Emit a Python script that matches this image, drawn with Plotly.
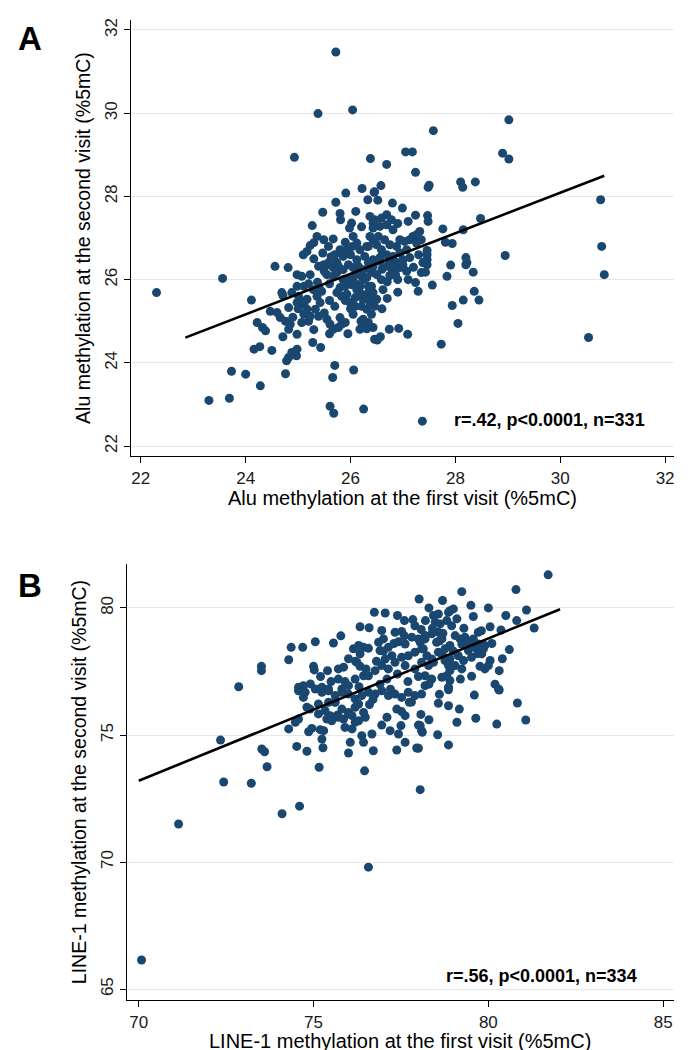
import plotly.graph_objects as go

# ---------------- Panel A data (Alu, %5mC) ----------------
alu_first = [
 24.93,25.72,25.38,26.04,26.38,27.05,27.18,26.69,27.24,28.9,29.02,29.02,27.58,27.5,27.48,28.1,28.14,28.38,26.58,26.46,
 26.52,26.33,26.8,26.99,27.24,27.47,27.48,27.76,28.15,28.48,27.81,27.94,28.2,28.22,27.91,27.46,27.46,27.46,27.46,27.38,
 25.91,26.22,26.45,25.72,25.47,25.8,25.81,26.1,26.02,25.98,26.21,26.37,26.43,25.27,25.36,25.49,25.67,25.23,25.17,25.1,
 25.3,25.58,25.47,25.63,25.8,25.93,25.86,26.05,26.12,26.04,26.18,26.31,26.43,26.27,26.12,26.43,24.56,24.81,25.39,25.55,25.74,
 26.46,26.59,26.69,26.78,26.43,26.56,26.69,26.81,26.37,26.53,26.65,26.34,26.5,26.59,26.75,26.88,26.94,27.03,27.13,27.19,
 27.26,27.32,27.35,27.26,27.07,26.94,26.81,26.69,26.56,26.37,26.75,27.0,27.13,
 24.98,25.07,25.23,25.37,24.98,25.11,24.69,24.71,24.11,24.88,25.01,25.04,25.17,25.11,24.98,24.82,24.47,24.6,24.66,24.76,
 24.85,24.82,24.98,25.17,25.11,25.23,25.2,25.07,25.42,25.33,25.39,25.36,25.45,25.29,25.55,25.61,25.67,25.77,25.83,25.9,
 25.8,25.7,25.74,25.83,25.93,25.8,25.9,25.96,25.86,25.99,26.09,26.05,26.24,26.31,26.43,26.18,26.34,26.43,26.18,26.28,
 26.43,26.46,24.22,24.32,24.38,24.71,24.16,24.27,25.28,25.43,24.88,24.82,24.78,24.98,24.97,25.7,26.06,24.0,24.76,25.66,24.28,
 25.49,25.58,25.67,25.77,25.86,25.96,26.05,26.15,26.24,26.34,26.43,
 25.55,25.67,25.74,26.02,26.12,26.24,26.31,26.37,26.15,26.05,26.18,26.09,26.31,26.21,26.37,26.4,26.24,26.34,26.5,26.46,
 27.41,27.43,27.35,28.2,28.34,27.84,27.07,26.5,26.59,26.75,26.86,26.62,26.4,26.4,27.24,27.29,27.56,28.36,28.15,28.45,
 27.94,28.05,26.31,26.74,26.92,27.09,26.57,26.51,27.73,26.37,26.56,26.69,26.88,26.94,
 26.6,26.8,27.0,27.2,26.9,26.7,
 25.3,25.5,25.7,25.9,26.0,26.2,26.1,25.9,25.6,25.4,25.2,25.0,24.9,25.5,25.6,26.0,26.2,25.95,25.6,25.3,
 26.6,26.7,26.9,27.1,26.8,27.3,26.9,27.1,
 27.37,26.25,25.61,25.68,23.69,23.73,23.56,22.3,30.79,30.84,30.54,30.77,28.95,24.5,23.3
]
alu_second = [
 28.94,31.47,29.99,30.08,28.91,29.07,29.07,28.77,28.58,29.04,28.9,29.84,29.58,28.27,28.22,28.35,28.22,28.35,28.26,28.11,
 27.91,27.92,27.84,27.72,27.55,27.54,27.4,27.22,27.2,27.47,26.9,26.87,26.53,26.41,26.35,26.7,26.6,26.48,26.36,26.41,
 28.08,28.19,28.1,27.86,27.62,27.59,27.44,27.64,27.36,27.24,27.27,27.52,27.36,27.3,27.04,26.96,26.98,26.82,26.68,26.6,
 26.89,26.8,26.64,26.55,26.72,26.72,26.56,27.04,26.88,26.8,26.72,26.8,26.96,26.56,26.48,26.48,26.32,26.29,26.32,26.36,26.41,
 27.44,27.48,27.56,27.44,27.24,27.28,27.32,27.2,27.04,27.04,26.96,26.8,26.84,26.72,26.84,26.8,26.96,26.92,26.96,27.04,
 27.08,27.16,26.96,26.88,26.72,26.64,26.56,26.6,26.53,26.32,26.41,26.48,26.53,
 26.12,26.08,26.12,25.94,25.84,25.84,25.69,25.62,25.51,25.69,25.6,25.48,25.53,25.41,25.45,25.33,25.24,25.21,25.09,25.0,
 24.93,24.81,24.69,25.29,25.17,25.12,25.0,24.97,25.45,25.29,25.12,25.6,25.72,25.76,25.05,24.93,24.81,24.85,24.93,24.97,
 25.09,25.36,25.69,25.6,25.65,25.81,25.84,26.0,26.0,25.45,25.36,25.17,25.53,25.65,25.69,25.84,25.84,26.17,24.81,24.85,
 24.85,24.57,24.97,24.85,24.77,24.63,24.33,24.39,24.49,24.37,24.25,24.13,24.05,24.33,24.17,23.94,23.83,23.73,23.74,23.65,23.45,
 26.36,26.41,26.29,26.32,26.24,26.36,26.29,26.32,26.24,26.41,26.32,
 26.12,26.08,26.17,25.88,25.76,26.0,26.05,26.24,26.17,26.05,25.69,25.57,25.29,25.36,25.45,25.17,25.05,24.97,25.53,25.36,
 26.41,26.18,26.17,26.36,26.18,26.08,26.2,26.12,26.0,26.1,26.12,25.76,25.84,25.57,25.93,25.72,25.87,25.72,25.51,25.51,
 25.38,24.95,24.82,24.81,24.83,24.69,24.63,24.55,24.45,26.36,26.44,26.32,26.41,26.29,
 26.25,26.2,26.35,26.3,26.0,25.95,
 26.5,26.2,26.6,26.9,26.6,26.1,25.9,25.5,25.9,25.8,25.9,25.3,25.1,25.2,25.5,25.3,25.0,24.7,24.7,24.8,
 25.3,25.55,25.7,26.0,26.3,26.6,27.35,27.4,
 22.6,22.89,22.96,22.79,23.15,23.8,26.03,25.69,26.8,26.12,24.61,27.92,26.58,24.3,23.1
]
alu_fit_intercept = 13.48
alu_fit_slope = 0.487
alu_fit_xrange = [22.85, 30.84]
alu_stat = "r=.42, p<0.0001, n=331"
alu_xtitle = "Alu methylation at the first visit (%5mC)"
alu_ytitle = "Alu methylation at the second visit (%5mC)"

# ---------------- Panel B data (LINE-1, %5mC) ----------------
line1_first = [
 78.02,76.74,77.05,77.84,78.08,76.33,76.59,76.95,77.0,75.78,75.57,75.05,74.36,74.69,74.29,73.51,73.51,75.0,75.02,75.4,
 75.71,75.86,76.14,76.29,76.43,76.57,76.33,76.24,76.33,74.57,74.71,74.91,75.24,75.43,
 76.86,76.9,77.14,77.24,77.05,76.95,76.76,76.57,77.14,77.33,77.52,77.71,77.9,78.09,77.62,77.9,78.09,78.19,
 77.33,77.52,77.43,77.62,77.81,78.0,78.19,75.71,75.81,76.0,76.19,76.43,
 73.22,73.67,73.52,73.6,74.29,74.52,74.81,75.16,75.27,75.24,75.29,75.19,74.86,74.95,75.14,74.81,74.9,74.71,74.48,74.57,
 75.38,75.48,75.69,75.86,76.0,76.1,75.9,76.1,76.19,76.29,76.43,76.48,76.38,76.43,76.05,76.0,76.67,76.71,76.46,76.95,
 77.19,77.38,77.5,77.43,77.62,77.95,78.0,78.09,78.07,77.74,77.38,77.52,77.62,78.05,
 74.57,74.76,75.05,75.24,75.43,75.62,75.81,76.0,76.19,76.38,76.57,76.76,76.95,77.14,77.33,77.52,77.71,77.9,78.09,
 75.62,75.81,76.0,76.19,76.29,75.71,75.52,75.33,75.43,75.14,
 78.86,79.6,80.31,78.57,78.86,79.17,80.83,79.64,80.24,81.07,78.05,78.11,78.55,78.86,78.0,
 79.24,80.79,78.69,81.09,80.81,81.31,79.57,80.05,80.36,80.6,79.71,78.43,78.57,78.86,78.9,79.0,79.24,79.52,79.76,79.9,
 80.05,80.0,80.31,80.19,80.29,
 78.48,78.62,78.81,78.95,79.1,78.57,78.67,78.52,78.38,78.19,79.05,79.19,79.33,79.43,79.24,79.57,79.71,79.86,79.9,79.67,
 79.81,78.05,78.14,78.24,78.38,78.29,78.43,78.57,78.67,78.76,78.9,78.76,78.86,78.9,78.81,78.67,78.9,78.86,78.19,78.38,
 79.43,79.14,79.29,79.05,79.52,
 76.2,76.5,76.8,77.0,77.3,77.6,77.9,78.2,78.4,78.6,78.9,79.2,79.5,79.8,80.1,80.4,77.1,77.4,77.7,78.0,
 78.3,78.6,77.8,77.2,76.9,76.6,76.3,75.9,75.5,75.2,76.0,77.6,78.7,79.0,79.3,79.7,80.5,80.0,79.5,78.3,
 77.4,76.7,75.6,78.3,79.1,77.1,
 70.08,71.14,72.34,72.43,72.86,74.1,74.6,76.57,81.71
]
line1_second = [
 80.35,79.83,79.8,79.54,79.15,79.26,79.22,79.11,78.78,78.9,78.62,78.67,78.45,78.45,77.96,77.7,77.53,77.7,77.56,77.53,
 77.6,77.67,78.39,78.52,78.45,78.41,78.19,77.86,77.7,76.88,76.94,77.01,76.88,76.81,
 78.65,78.32,78.45,78.12,77.99,77.73,77.53,77.33,77.6,77.86,78.06,78.12,78.26,78.39,77.73,77.6,77.86,77.33,
 79.04,79.07,78.67,78.58,78.85,78.78,78.91,77.2,76.81,76.94,77.2,77.33,
 73.1,73.75,74.45,74.34,75.24,74.55,74.36,73.73,74.5,74.84,75.17,75.21,75.13,75.26,75.83,76.09,76.02,76.48,75.5,75.63,
 75.63,75.76,75.79,75.63,75.83,75.76,75.3,75.24,75.5,75.56,75.89,75.7,74.97,74.71,74.71,74.29,75.04,74.38,73.59,75.39,
 75.17,74.41,75.37,75.04,74.71,74.49,75.39,75.17,75.81,76.29,76.02,75.92,75.76,72.85,
 76.74,76.68,76.81,76.68,76.74,76.55,76.68,76.61,76.42,76.55,76.68,76.61,76.74,76.55,76.61,76.48,76.68,76.55,76.61,
 76.29,76.02,75.89,76.09,76.22,75.7,75.56,75.96,76.29,76.22,
 76.78,76.57,76.77,76.25,76.15,76.02,76.26,75.66,75.43,75.59,75.37,75.11,75.01,74.61,74.48,
 80.64,80.72,80.29,79.92,79.5,79.21,79.66,79.26,79.13,78.36,79.04,79.7,79.76,79.83,79.89,79.96,77.6,77.31,77.7,77.6,
 77.93,77.73,77.53,77.0,76.81,
 79.44,79.37,79.5,79.3,79.57,79.04,78.78,78.65,78.98,78.78,78.91,78.78,78.85,78.65,78.58,78.78,78.58,78.39,78.52,78.39,
 78.19,78.65,78.39,78.12,77.99,77.73,77.86,78.26,78.19,78.39,78.52,77.93,77.73,77.53,77.33,77.27,77.14,76.88,76.94,77.2,
 78.32,78.12,77.93,77.73,78.06,
 77.9,77.6,77.9,78.3,78.6,78.9,79.3,79.5,79.2,78.7,78.0,77.2,78.5,79.1,78.6,78.0,77.2,77.4,77.1,77.3,
 77.0,76.6,76.3,76.8,77.0,76.2,76.9,77.1,77.1,77.3,78.0,79.5,79.0,78.3,79.2,78.2,79.7,80.0,80.1,80.0,
 79.7,76.4,76.3,75.6,75.5,75.7,
 66.15,71.5,74.8,73.15,76.9,71.9,72.2,69.8,81.3
]
line1_fit_intercept = 34.0
line1_fit_slope = 0.56
line1_fit_xrange = [70.0, 82.05]
line1_stat = "r=.56, p<0.0001, n=334"
line1_xtitle = "LINE-1 methylation at the first visit (%5mC)"
line1_ytitle = "LINE-1 methylation at the second visit (%5mC)"

# ---------------- styling ----------------
FONT = "Liberation Sans, Arial, sans-serif"
MARK = "#1a476f"
GRID = "#e6e9eb"
W, H = 688, 1050

def fit_line(xr, a, b):
    return list(xr), [a + b * xr[0], a + b * xr[1]]

fig = go.Figure()
fig.add_trace(go.Scatter(x=alu_first, y=alu_second, mode="markers",
                         marker=dict(color=MARK, size=9), xaxis="x", yaxis="y", showlegend=False))
lx, ly = fit_line(alu_fit_xrange, alu_fit_intercept, alu_fit_slope)
fig.add_trace(go.Scatter(x=lx, y=ly, mode="lines", line=dict(color="black", width=2.6),
                         xaxis="x", yaxis="y", showlegend=False))
fig.add_trace(go.Scatter(x=line1_first, y=line1_second, mode="markers",
                         marker=dict(color=MARK, size=9), xaxis="x2", yaxis="y2", showlegend=False))
lx2, ly2 = fit_line(line1_fit_xrange, line1_fit_intercept, line1_fit_slope)
fig.add_trace(go.Scatter(x=lx2, y=ly2, mode="lines", line=dict(color="black", width=2.6),
                         xaxis="x2", yaxis="y2", showlegend=False))

def px_x(p): return p / W
def px_y(p): return 1 - p / H

common_x = dict(showline=True, linecolor="black", linewidth=1.2, ticks="outside", ticklen=6,
                tickcolor="black", showgrid=False, zeroline=False,
                tickfont=dict(family=FONT, size=17, color="#1a1a1a"))
common_y = dict(showline=True, linecolor="black", linewidth=1.2, ticks="outside", ticklen=6,
                tickcolor="black", showgrid=True, gridcolor=GRID, gridwidth=1, zeroline=False,
                tickangle=-90,
                tickfont=dict(family=FONT, size=17, color="#1a1a1a"),
                title_font=dict(family=FONT, size=19.5, color="black"))

A_L, A_R, A_T, A_B = 123, 667, 10, 447
B_L, B_R, B_T, B_B = 119, 667, 555, 992

fig.update_layout(
    width=W, height=H, paper_bgcolor="white", plot_bgcolor="white",
    margin=dict(l=0, r=0, t=0, b=0),
    xaxis=dict(common_x, domain=[px_x(A_L), px_x(A_R)], range=[21.81, 32.17],
               tickvals=[22, 24, 26, 28, 30, 32], anchor="y"),
    yaxis=dict(common_y, domain=[px_y(A_B), px_y(A_T)], range=[21.76, 32.24],
               tickvals=[22, 24, 26, 28, 30, 32], anchor="x",
               title=dict(text=alu_ytitle, standoff=6)),
    xaxis2=dict(common_x, domain=[px_x(B_L), px_x(B_R)], range=[69.66, 85.31],
                tickvals=[70, 75, 80, 85], anchor="y2"),
    yaxis2=dict(common_y, domain=[px_y(B_B), px_y(B_T)], range=[64.57, 81.73],
                tickvals=[65, 70, 75, 80], anchor="x2",
                title=dict(text=line1_ytitle, standoff=6)),
    annotations=[
        dict(text="<b>A</b>", x=px_x(8), y=px_y(8), xref="paper", yref="paper",
             xanchor="left", yanchor="top", showarrow=False,
             font=dict(family=FONT, size=33, color="black")),
        dict(text="<b>B</b>", x=px_x(8), y=px_y(556), xref="paper", yref="paper",
             xanchor="left", yanchor="top", showarrow=False,
             font=dict(family=FONT, size=33, color="black")),
        dict(text=alu_xtitle, x=px_x((A_L + A_R) / 2), y=px_y(489), xref="paper", yref="paper",
             xanchor="center", yanchor="middle", showarrow=False,
             font=dict(family=FONT, size=20, color="black")),
        dict(text=line1_xtitle, x=px_x((B_L + B_R) / 2), y=px_y(1033), xref="paper", yref="paper",
             xanchor="center", yanchor="middle", showarrow=False,
             font=dict(family=FONT, size=20, color="black")),
        dict(text="<b>" + alu_stat + "</b>", x=px_x(640), y=22.62, xref="paper", yref="y",
             xanchor="right", yanchor="middle", showarrow=False,
             font=dict(family=FONT, size=18, color="black")),
        dict(text="<b>" + line1_stat + "</b>", x=px_x(632), y=65.5, xref="paper", yref="y2",
             xanchor="right", yanchor="middle", showarrow=False,
             font=dict(family=FONT, size=18, color="black")),
    ],
)

fig.write_html("out.html")
